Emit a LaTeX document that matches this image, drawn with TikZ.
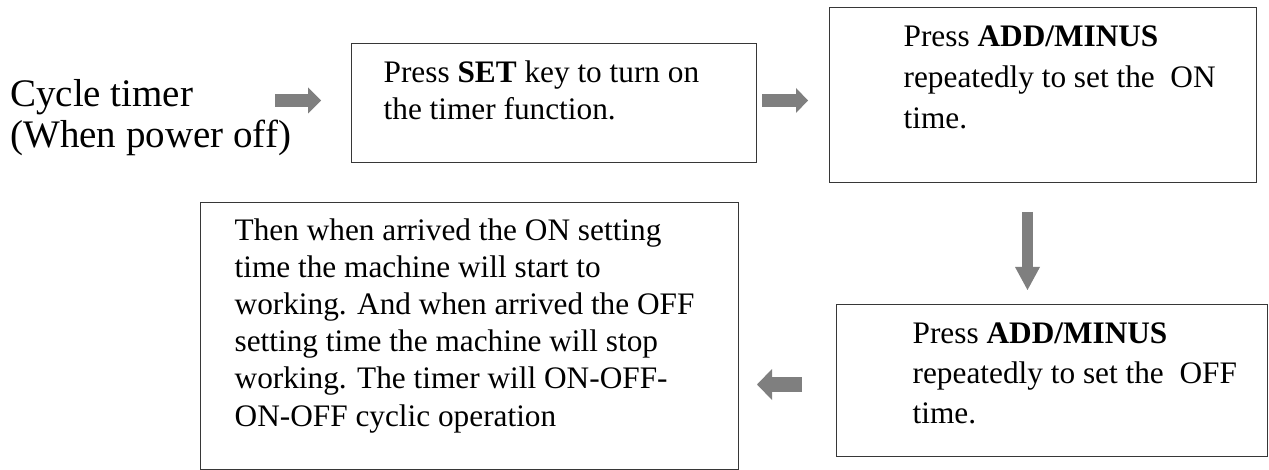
\documentclass[tikz,border=0pt]{standalone}
\usepackage{fontspec}
\setmainfont{Liberation Serif}
\usetikzlibrary{arrows.meta}
\definecolor{arrowgray}{RGB}{127,127,127}
\definecolor{boxline}{RGB}{55,55,55}
\begin{document}
\begin{tikzpicture}[x=1pt,y=-1pt,
  flowbox/.style={draw=boxline, line width=1.3pt, inner sep=0pt, anchor=north west},
  plaintext/.style={inner sep=0pt, anchor=base west},
  blockarrow/.style={draw=arrowgray, line width=#1}]
\useasboundingbox (0,0) rectangle (1269,470);

\node[plaintext] (title) at (10,107)
  {\parbox[t]{300pt}{\raggedright\fontsize{39}{41}\selectfont Cycle timer\\(When power off)}};

\node[flowbox, text height=39pt, text depth=80pt] (b1) at (351,43)
  {\hspace*{32pt}\parbox[t]{373pt}{\raggedright\fontsize{31.3}{37}\selectfont Press \textbf{SET} key to turn on\\the timer function.}};

\node[flowbox, text height=39pt, text depth=136pt] (b2) at (829,7)
  {\hspace*{74pt}\parbox[t]{353pt}{\raggedright\fontsize{31.3}{41}\selectfont Press \textbf{ADD/MINUS}\\repeatedly to set the~ ON\\time.}};

\node[flowbox, text height=39pt, text depth=113pt] (b3) at (836,304)
  {\hspace*{76pt}\parbox[t]{355pt}{\raggedright\fontsize{31.3}{40}\selectfont Press \textbf{ADD/MINUS}\\repeatedly to set the~ OFF\\time.}};

\node[flowbox, text height=37.5pt, text depth=229.5pt] (b4) at (200,202)
  {\hspace*{34pt}\parbox[t]{504pt}{\raggedright\fontsize{31.3}{37.2}\selectfont Then when arrived the ON setting\\time the machine will start to\\working. And when arrived the OFF\\setting time the machine will stop\\working. The timer will ON-OFF-\\ON-OFF cyclic operation}};

\coordinate (a1s) at (275,100.5);
\coordinate (a1e) at (321,100.5);
\coordinate (a2s) at (762,100.5);
\coordinate (a2e) at (808,100.5);
\coordinate (a3s) at (1027.5,212);
\coordinate (a3e) at (1027.5,290);
\coordinate (a4s) at (802,384.5);
\coordinate (a4e) at (757,384.5);

\draw[blockarrow=13pt, -{Triangle[length=13pt,width=26pt,line width=0pt]}] (a1s) -- (a1e);
\draw[blockarrow=13pt, -{Triangle[length=12pt,width=25pt,line width=0pt]}] (a2s) -- (a2e);
\draw[blockarrow=11pt, -{Triangle[length=23pt,width=25pt,line width=0pt]}] (a3s) -- (a3e);
\draw[blockarrow=15pt, -{Triangle[length=15pt,width=31pt,line width=0pt]}] (a4s) -- (a4e);
\end{tikzpicture}
\end{document}
